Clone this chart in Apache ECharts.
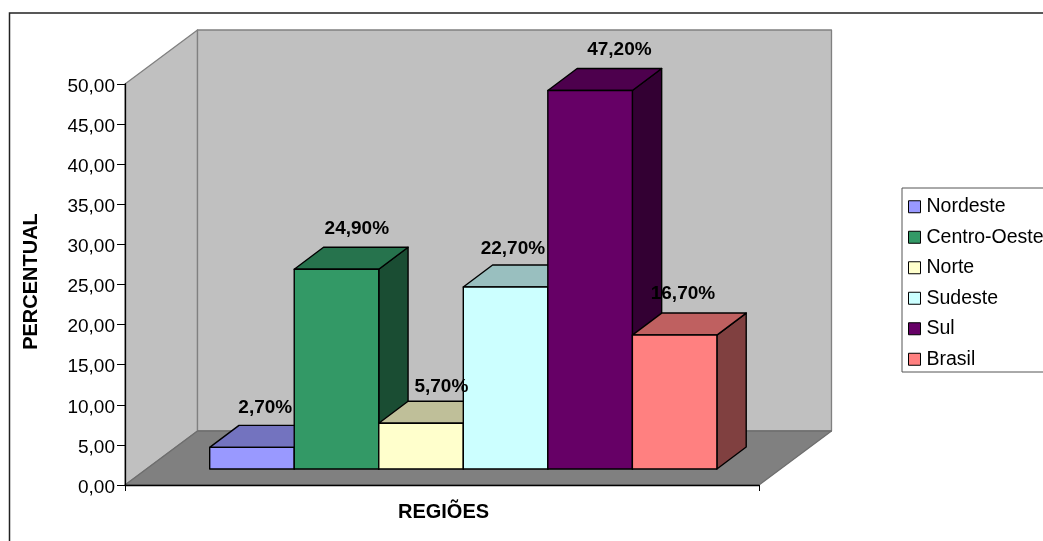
<!DOCTYPE html>
<html>
<head>
<meta charset="utf-8">
<style>html,body{margin:0;padding:0;background:#fff}#chart{width:1043px;height:541px}</style>
<script src="https://cdn.jsdelivr.net/npm/echarts@6/dist/echarts.min.js"></script>
</head>
<body>
<div id="chart"></div>
<script>
// Percent of each region, one bar per region inside a single category.
const regions = ['Nordeste', 'Centro-Oeste', 'Norte', 'Sudeste', 'Sul', 'Brasil'];
const percentValues = [2.7, 24.9, 5.7, 22.7, 47.2, 16.7];
const categories = ['REGIÕES'];
const faceColors = ['#9999FF', '#339966', '#FFFFCC', '#CCFFFF', '#660066', '#FF8080'];
const topColors = ['#7373BF', '#26734D', '#BFBF99', '#99BFBF', '#4D004D', '#BF6060'];
const sideColors = ['#4D4D80', '#1A4D33', '#808066', '#668080', '#330033', '#804040'];

// Hand-placed offsets of the value labels, relative to the bar's rear top edge.
const labelShiftX = [-16, -9, -9, -22, 0, -21];
const labelShiftY = [-17.5, -18.5, -15, -16.5, -18.5, -19];

const FONT = '"Liberation Sans", Arial, sans-serif';
const FONT_SIZE = 19;
const TITLE_SIZE = 20;
const GRID = { left: 125, right: 284, top: 84, bottom: 56 };
const WALL_DX = 72.5, WALL_DY = 54;    // full depth of the plot box
const FRONT_DX = 21.3, FRONT_DY = 16;  // gap between axis plane and bar fronts
const BAR_DX = 29.3, BAR_DY = 22;      // depth of each bar
const SIDE_GAP = 0.1;                  // share of the band left free at each end

function fmtPercent(v) { return v.toFixed(2).replace('.', ',') + '%'; }

function poly(points, fill, stroke, width) {
  return { type: 'polygon', shape: { points }, style: { fill, stroke, lineWidth: width, lineJoin: 'round' } };
}

// Walls and floor of the plot box, positioned from the value axis.
function renderWalls(params, api) {
  const [x0, y0] = api.coord([0, 0]);
  const [, yTop] = api.coord([0, 50]);
  const band = api.size([1, 0])[0];
  const left = x0 - band / 2, right = x0 + band / 2;
  const stroke = '#808080';
  return {
    type: 'group',
    children: [
      poly([[left, yTop], [left + WALL_DX, yTop - WALL_DY], [left + WALL_DX, y0 - WALL_DY], [left, y0]], '#C0C0C0', stroke, 1.3),
      poly([[left + WALL_DX, yTop - WALL_DY], [right + WALL_DX, yTop - WALL_DY], [right + WALL_DX, y0 - WALL_DY], [left + WALL_DX, y0 - WALL_DY]], '#C0C0C0', stroke, 1.3),
      poly([[left, y0], [left + WALL_DX, y0 - WALL_DY], [right + WALL_DX, y0 - WALL_DY], [right, y0]], '#808080', '#6E6E6E', 1.3)
    ]
  };
}

// One 3D bar: front, top and side faces from the value scale.
function renderBar(idx) {
  return function (params, api) {
    const [xc, y0] = api.coord([0, 0]);
    const [, yv] = api.coord([0, api.value(1)]);
    const band = api.size([1, 0])[0];
    const w = band * (1 - 2 * SIDE_GAP) / regions.length;
    const x1 = xc - band / 2 + band * SIDE_GAP + idx * w + FRONT_DX;
    const x2 = x1 + w;
    const yb = y0 - FRONT_DY;
    const yt = yv - FRONT_DY;
    const line = '#000';
    return {
      type: 'group',
      children: [
        poly([[x2, yb], [x2 + BAR_DX, yb - BAR_DY], [x2 + BAR_DX, yt - BAR_DY], [x2, yt]], sideColors[idx], line, 1.4),
        poly([[x1, yt], [x1 + BAR_DX, yt - BAR_DY], [x2 + BAR_DX, yt - BAR_DY], [x2, yt]], topColors[idx], line, 1.4),
        poly([[x1, yb], [x2, yb], [x2, yt], [x1, yt]], faceColors[idx], line, 1.4)
      ]
    };
  };
}

// Value labels sit above everything, so they get their own series.
function renderLabels(params, api) {
  const idx = params.dataIndex;
  const [xc] = api.coord([0, 0]);
  const [, yv] = api.coord([0, api.value(1)]);
  const band = api.size([1, 0])[0];
  const w = band * (1 - 2 * SIDE_GAP) / regions.length;
  const cx = xc - band / 2 + band * SIDE_GAP + (idx + 0.5) * w + FRONT_DX + BAR_DX;
  return {
    type: 'text',
    style: {
      x: cx + labelShiftX[idx],
      y: yv - FRONT_DY - BAR_DY + labelShiftY[idx],
      text: fmtPercent(api.value(1)),
      align: 'center',
      verticalAlign: 'middle',
      fill: '#000',
      font: 'bold ' + FONT_SIZE + 'px ' + FONT
    }
  };
}

const chart = echarts.init(document.getElementById('chart'), null, { renderer: 'canvas' });

chart.setOption({
  animation: false,
  backgroundColor: '#fff',
  graphic: [{
    type: 'rect', z: -10, silent: true,
    shape: { x: 9.5, y: 13, width: 1100, height: 600 },
    style: { fill: 'none', stroke: '#222', lineWidth: 1.5 }
  }],
  grid: GRID,
  xAxis: {
    type: 'category',
    data: categories,
    boundaryGap: true,
    axisLine: { lineStyle: { color: '#000', width: 1.3 } },
    axisTick: { show: true, length: 6, alignWithLabel: false, lineStyle: { color: '#000' } },
    axisLabel: { show: false },
    name: categories[0],
    nameLocation: 'middle',
    nameGap: 17,
    nameTextStyle: { fontFamily: FONT, fontWeight: 'bold', fontSize: TITLE_SIZE, color: '#000', padding: [0, 0, 0, 3] },
    z: 5
  },
  yAxis: {
    type: 'value',
    min: 0, max: 50, interval: 5,
    name: 'PERCENTUAL',
    nameLocation: 'middle',
    nameGap: 84,
    nameRotate: 90,
    nameTextStyle: { fontFamily: FONT, fontWeight: 'bold', fontSize: TITLE_SIZE, color: '#000', padding: [0, 0, 0, 6] },
    axisLine: { show: true, lineStyle: { color: '#000', width: 1.3 } },
    axisTick: { show: true, length: 8, lineStyle: { color: '#000' } },
    axisLabel: {
      margin: 10,
      formatter: v => '{tick|' + v.toFixed(2).replace('.', ',') + '}',
      rich: { tick: { fontFamily: FONT, fontSize: FONT_SIZE, color: '#000', padding: [5, 0, 0, 0] } }
    },
    splitLine: { show: false },
    z: 5
  },
  legend: {
    orient: 'vertical',
    left: 902, top: 188,
    data: regions.map(name => ({ name, icon: 'rect' })),
    itemWidth: 12, itemHeight: 12, itemGap: 9,
    padding: [8, 10, 2, 6],
    borderColor: '#555', borderWidth: 1, backgroundColor: '#fff',
    textStyle: { fontFamily: FONT, fontSize: 19.5, color: '#000', lineHeight: 21.5, padding: [0, 0, 0, 1] },
    itemStyle: { borderColor: '#000', borderWidth: 1 }
  },
  series: [
    {
      type: 'custom', name: 'box', silent: true, z: 1, clip: false,
      data: [[0, 0]], renderItem: renderWalls, encode: { x: 0, y: 1 }
    },
    ...regions.map((name, i) => ({
      type: 'custom', name, z: 2 + i, clip: false,
      itemStyle: { color: faceColors[i] },
      data: [[0, percentValues[i]]],
      renderItem: renderBar(i),
      encode: { x: 0, y: 1 }
    })),
    {
      type: 'custom', name: 'labels', silent: true, z: 20, clip: false,
      data: percentValues.map(v => [0, v]),
      renderItem: renderLabels,
      encode: { x: 0, y: 1 }
    }
  ]
});
</script>
</body>
</html>
